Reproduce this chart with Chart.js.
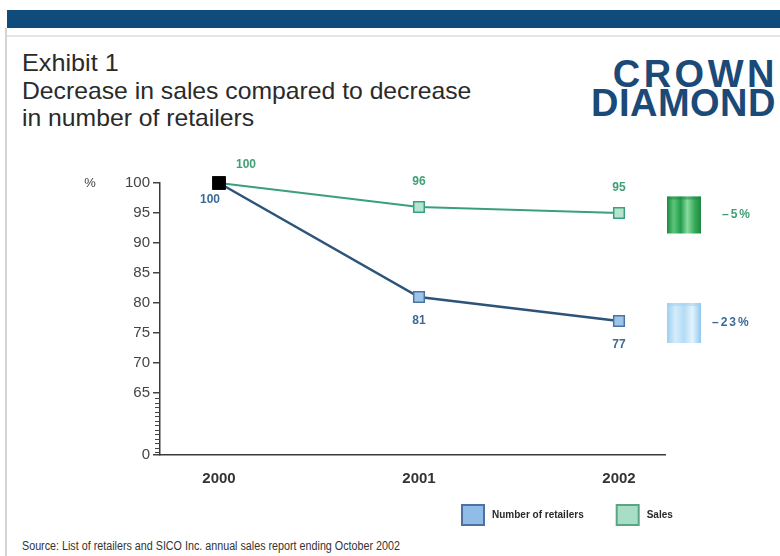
<!DOCTYPE html>
<html>
<head>
<meta charset="utf-8">
<script src="https://cdn.jsdelivr.net/npm/chart.js@4.4.1/dist/chart.umd.min.js"></script>
<style>
  body { margin: 0; background: #fff; width: 780px; height: 556px; overflow: hidden; position: relative; font-family: "Liberation Sans", Arial, sans-serif; }
  #band { position: absolute; left: 7px; right: 0; top: 10px; height: 18px; background: #0f4c7b; }
  #rule { position: absolute; left: 7px; right: 0; top: 35px; height: 2px; background: #e2e6ea; }
  #frame { position: absolute; left: 5px; top: 28px; bottom: 0; width: 2px; background: #d3d3d3; }
  .t { position: absolute; color: #2a2a2a; white-space: nowrap; transform-origin: left top; }
  #exhibit { left: 22px; top: 49px; font-size: 24px; transform: scaleX(1.05); }
  #title1 { left: 22px; top: 77px; font-size: 24px; transform: scaleX(1.03); }
  #title2 { left: 22px; top: 104px; font-size: 24px; transform: scaleX(1.03); }
  .logo { position: absolute; right: 5px; color: #1b4a78; font-weight: bold; font-size: 38px; line-height: 30px; }
  #logo1 { top: 59px; letter-spacing: 3.5px; right: 2px; }
  #logo2 { top: 88px; letter-spacing: 0.5px; right: 4px; }
  #source { left: 22px; top: 539px; font-size: 12px; color: #333; transform: scaleX(0.895); }
  #chart { position: absolute; left: 0; top: 0; }
</style>
</head>
<body>
<div id="band"></div>
<div id="rule"></div>
<div id="frame"></div>
<div class="t" id="exhibit">Exhibit 1</div>
<div class="t" id="title1">Decrease in sales compared to decrease</div>
<div class="t" id="title2">in number of retailers</div>
<div class="logo" id="logo1">CROWN</div>
<div class="logo" id="logo2">DIAMOND</div>
<div class="t" id="source">Source: List of retailers and SICO Inc. annual sales report ending October 2002</div>
<canvas id="chart" width="780" height="556"></canvas>
<script>
// valeurs
const years = [2000, 2001, 2002];
const retailers = [100, 81, 77];
const sales = [100, 96, 95];
const yTicks = [65, 70, 75, 80, 85, 90, 95, 100];
const yBreak = 54.67; // bas de l'axe coupé, étiqueté "0"

const FONT = '"Liberation Sans", Arial, sans-serif';

function points(values) {
    return years.map((x, i) => ({ x: x, y: values[i] }));
}

// étiquettes, coupure de l'axe, cylindres et légende
const extras = {
    id: 'extras',
    afterDatasetsDraw(chart) {
        const ctx = chart.ctx;
        const xs = chart.scales.x, ys = chart.scales.y;
        ctx.save();

        // petites hachures de la coupure entre 65 et 0
        ctx.strokeStyle = '#444';
        ctx.lineWidth = 1;
        const top = ys.getPixelForValue(65), bottom = ys.getPixelForValue(yBreak);
        for (let y = top + 5; y < bottom - 2; y += 4.5) {
            ctx.beginPath();
            ctx.moveTo(xs.left - 5, Math.round(y) + 0.5);
            ctx.lineTo(xs.left, Math.round(y) + 0.5);
            ctx.stroke();
        }

        // signe %
        ctx.fillStyle = '#444';
        ctx.font = '13px ' + FONT;
        ctx.textAlign = 'center';
        ctx.textBaseline = 'middle';
        ctx.fillText('%', 90, ys.getPixelForValue(100));

        // valeurs des points
        chart.data.datasets.forEach((ds, di) => {
            const meta = chart.getDatasetMeta(di);
            ctx.fillStyle = ds.labelColor;
            ctx.font = 'bold 12px ' + FONT;
            meta.data.forEach((pt, i) => {
                let dx = 0, dy = ds.above ? -25 : 24;
                if (i === 0) { dx = ds.above ? 27 : -9; dy = ds.above ? -18 : 17; }
                ctx.fillText(String(ds.data[i].y), pt.x + dx, pt.y + dy);
            });

            // cylindre + variation en %
            const first = ds.data[0].y, last = ds.data[ds.data.length - 1].y;
            const cy = ys.getPixelForValue(last) + 2;
            const cx = 667, w = 34, h = ds.above ? 37 : 40;
            const g = ctx.createLinearGradient(cx, 0, cx + w, 0);
            ds.cylinder.forEach((c, k) => g.addColorStop(k / (ds.cylinder.length - 1), c));
            ctx.fillStyle = g;
            ctx.fillRect(cx, cy - h / 2, w, h);
            ctx.fillStyle = ds.cylinder[0];
            ctx.globalAlpha = 0.5;
            ctx.fillRect(cx, cy - h / 2, w, 3);
            ctx.globalAlpha = 1;
            const pct = Math.round((last - first) / first * 100);
            ctx.fillStyle = ds.labelColor;
            ctx.font = 'bold 12px ' + FONT;
            ctx.letterSpacing = '2px';
            ctx.textAlign = 'left';
            ctx.fillText('\u2013' + Math.abs(pct) + '%', ds.above ? 722 : 712, cy);
            ctx.letterSpacing = '0px';
            ctx.textAlign = 'center';
        });

        // légende
        let lx = 462;
        const ly = 515;
        ctx.textAlign = 'left';
        chart.data.datasets.forEach(ds => {
            ctx.fillStyle = ds.boxFill;
            ctx.strokeStyle = ds.boxBorder;
            ctx.lineWidth = 2;
            ctx.fillRect(lx, ly - 10, 22, 20);
            ctx.strokeRect(lx, ly - 10, 22, 20);
            lx += 30;
            ctx.fillStyle = '#2a2a2a';
            ctx.font = 'bold 10px ' + FONT;
            ctx.fillText(ds.label, lx, ly);
            lx += ctx.measureText(ds.label).width + 33;
        });
        ctx.restore();
    }
};

new Chart(document.getElementById('chart'), {
    type: 'line',
    data: {
        datasets: [{
            label: 'Number of retailers',
            data: points(retailers),
            borderColor: '#2d5478',
            borderWidth: 2.5,
            pointStyle: 'rect',
            pointRadius: c => c.dataIndex === 0 ? 8.5 : 7.5,
            pointBackgroundColor: c => c.dataIndex === 0 ? '#000' : '#9cc5ea',
            pointBorderColor: c => c.dataIndex === 0 ? '#000' : '#4d74a0',
            pointBorderWidth: 1.5,
            clip: false,
            above: false,
            labelColor: '#3b6a98',
            boxFill: '#8fbde8',
            boxBorder: '#4d72a0',
            cylinder: ['#9fcff0', '#d4ecfb', '#b5dcf5', '#e2f3fd', '#93c7ec']
        }, {
            label: 'Sales',
            data: points(sales),
            borderColor: '#3a9e80',
            borderWidth: 2,
            pointStyle: 'rect',
            pointRadius: c => c.dataIndex === 0 ? 8.5 : 7.5,
            pointBackgroundColor: c => c.dataIndex === 0 ? '#000' : '#b6e4cf',
            pointBorderColor: c => c.dataIndex === 0 ? '#000' : '#3a9e80',
            pointBorderWidth: 1.5,
            clip: false,
            above: true,
            labelColor: '#3f9f74',
            boxFill: '#a8ddc6',
            boxBorder: '#5aa584',
            cylinder: ['#1d8a42', '#5cc67a', '#239c4c', '#8ad9a0', '#3aae5c', '#1b873e']
        }]
    },
    options: {
        responsive: false,
        animation: false,
        layout: { padding: { left: 0, right: 115, top: 183, bottom: 0 } },
        plugins: { legend: { display: false }, tooltip: { enabled: false } },
        scales: {
            x: {
                type: 'linear',
                min: 1999.705,
                max: 2002.23,
                afterBuildTicks: s => { s.ticks = years.map(v => ({ value: v })); },
                afterFit: s => { s.height = 101; },
                grid: { display: true, drawOnChartArea: false, drawTicks: false },
                border: { color: '#3a3a3a', width: 1.5 },
                ticks: { padding: 15, color: '#333', font: { size: 15, weight: 'bold', family: FONT }, callback: v => String(v) }
            },
            y: {
                type: 'linear',
                min: yBreak,
                max: 100,
                afterBuildTicks: s => { s.ticks = [yBreak].concat(yTicks).map(v => ({ value: v })); },
                afterFit: s => { s.width = 160; },
                grid: { drawOnChartArea: false, tickLength: 7, color: '#444', lineWidth: 1.5 },
                border: { color: '#3a3a3a', width: 1.5 },
                ticks: { padding: 3, color: '#444', font: { size: 15, family: FONT }, callback: v => v < 60 ? '0' : String(v) }
            }
        }
    },
    plugins: [extras]
});
</script>
</body>
</html>
